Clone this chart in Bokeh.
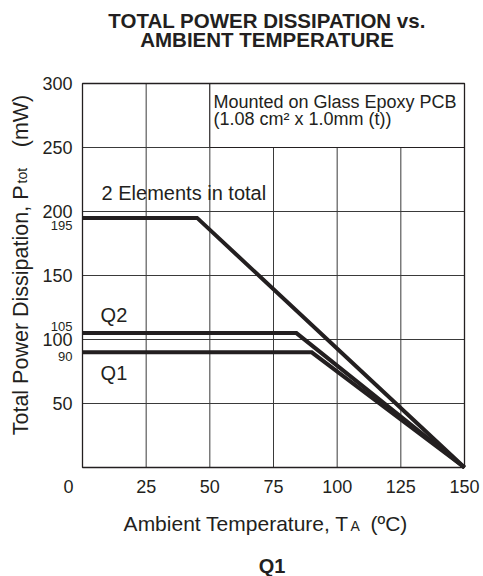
import math
from bokeh.plotting import figure
from bokeh.models import Range1d, Label
from bokeh.embed import file_html
from bokeh.resources import INLINE

# ---- data ----
temp_total = [0, 45, 150]
pwr_total = [195, 195, 0]
temp_q2 = [0, 84, 150]
pwr_q2 = [105, 105, 0]
temp_q1 = [0, 90, 150]
pwr_q1 = [90, 90, 0]

x_ticks = [25, 50, 75, 100, 125, 150]
y_ticks = [50, 100, 150, 200, 250, 300]
x_grid = [25, 50, 75, 100, 125]
y_grid = [50, 100, 150, 200, 250]
special_y = [195, 105, 90]
special_y_shift = [-8, 7, -4]

x_lim = (0, 150)
y_lim = (0, 300)
note_box = dict(left=50, right=150, bottom=250, top=300)

FONT = "Liberation Sans"
INK = "#231f20"

# ---- layout (pixels) ----
W, H = 483, 576
FL, FR, FT, FB = 82, 464, 83, 467          # plot area edges in px
XS = (FR - FL) / (x_lim[1] - x_lim[0])     # px per data unit
YS = (FB - FT) / (y_lim[1] - y_lim[0])

p = figure(width=W, height=H, output_backend="svg", toolbar_location=None,
           x_axis_type=None, y_axis_type=None,
           x_range=Range1d(x_lim[0] - FL / XS, x_lim[0] + (W - FL) / XS),
           y_range=Range1d(y_lim[0] - (H - FB) / YS, y_lim[0] + FB / YS),
           min_border=0)
p.min_border_left = p.min_border_right = p.min_border_top = p.min_border_bottom = 0
p.background_fill_color = "white"
p.border_fill_color = "white"
p.outline_line_color = None

# grid
p.segment(x0=x_grid, x1=x_grid, y0=[y_lim[0]] * len(x_grid), y1=[y_lim[1]] * len(x_grid),
          line_color="#3a3a3a", line_width=1)
p.segment(x0=[x_lim[0]] * len(y_grid), x1=[x_lim[1]] * len(y_grid), y0=y_grid, y1=y_grid,
          line_color="#3a3a3a", line_width=1)

# note box (white cell hiding grid)
p.quad(left=[note_box["left"]], right=[note_box["right"]], bottom=[note_box["bottom"]],
       top=[note_box["top"]], fill_color="white", line_color=INK, line_width=1)

for xs, ys in ((temp_total, pwr_total), (temp_q2, pwr_q2), (temp_q1, pwr_q1)):
    p.line(xs, ys, line_width=4, line_color=INK, line_join="miter")

# plot frame
p.quad(left=[x_lim[0]], right=[x_lim[1]], bottom=[y_lim[0]], top=[y_lim[1]],
       fill_color=None, line_color=INK, line_width=1.3)


def lab(text, x, y, size, xo=0, yo=0, align="left", bold=False, angle=0):
    p.add_layout(Label(x=x, y=y, x_offset=xo, y_offset=yo, text=text, text_font=FONT,
                       text_font_size=f"{size}px", text_align=align, text_baseline="middle",
                       text_color=INK, text_font_style="bold" if bold else "normal",
                       angle=angle))


# tick labels
for t in x_ticks:
    lab(str(t), t, 0, 18, yo=-19, align="center")
lab("0", 0, 0, 18, xo=-14, yo=-19, align="center")
for t in y_ticks:
    lab(str(t), 0, t, 18, xo=-10, align="right")
for v, s in zip(special_y, special_y_shift):
    lab(str(v), 0, v, 13, xo=-10, yo=s, align="right")

# title
lab("TOTAL POWER DISSIPATION vs.", 72.45, 300, 20.5, yo=63.3, align="center", bold=True)
lab("AMBIENT TEMPERATURE", 72.45, 300, 20.5, yo=44.3, align="center", bold=True)

# in-plot texts
lab("Mounted on Glass Epoxy PCB", 51.4, 285.4, 18)
lab("(1.08 cm\u00b2 x 1.0mm (t))", 51.4, 272.0, 18)
lab("2 Elements in total", 7.5, 214.8, 20)
lab("Q2", 7.1, 119.5, 20)
lab("Q1", 7.1, 74.2, 20)

# x axis title
lab("Ambient Temperature, T", 104.6, 0, 21, yo=-55.5, align="right")
lab("A", 105.2, 0, 14, yo=-58)
lab("(\u00baC)", 113.1, 0, 21, yo=-55.5)

# y axis title
lab("Total Power Dissipation, P", 0, 220.3, 21.5, xo=-61.5, align="right", angle=math.pi / 2)
lab("tot", 0, 221.9, 14, xo=-60.3, angle=math.pi / 2)
lab("(mW)", 0, 250.2, 21.5, xo=-61.5, angle=math.pi / 2)

# bottom caption
lab("Q1", 74.4, 0, 20, yo=-98, align="center", bold=True)

open("out.html", "w").write(file_html(p, INLINE))
